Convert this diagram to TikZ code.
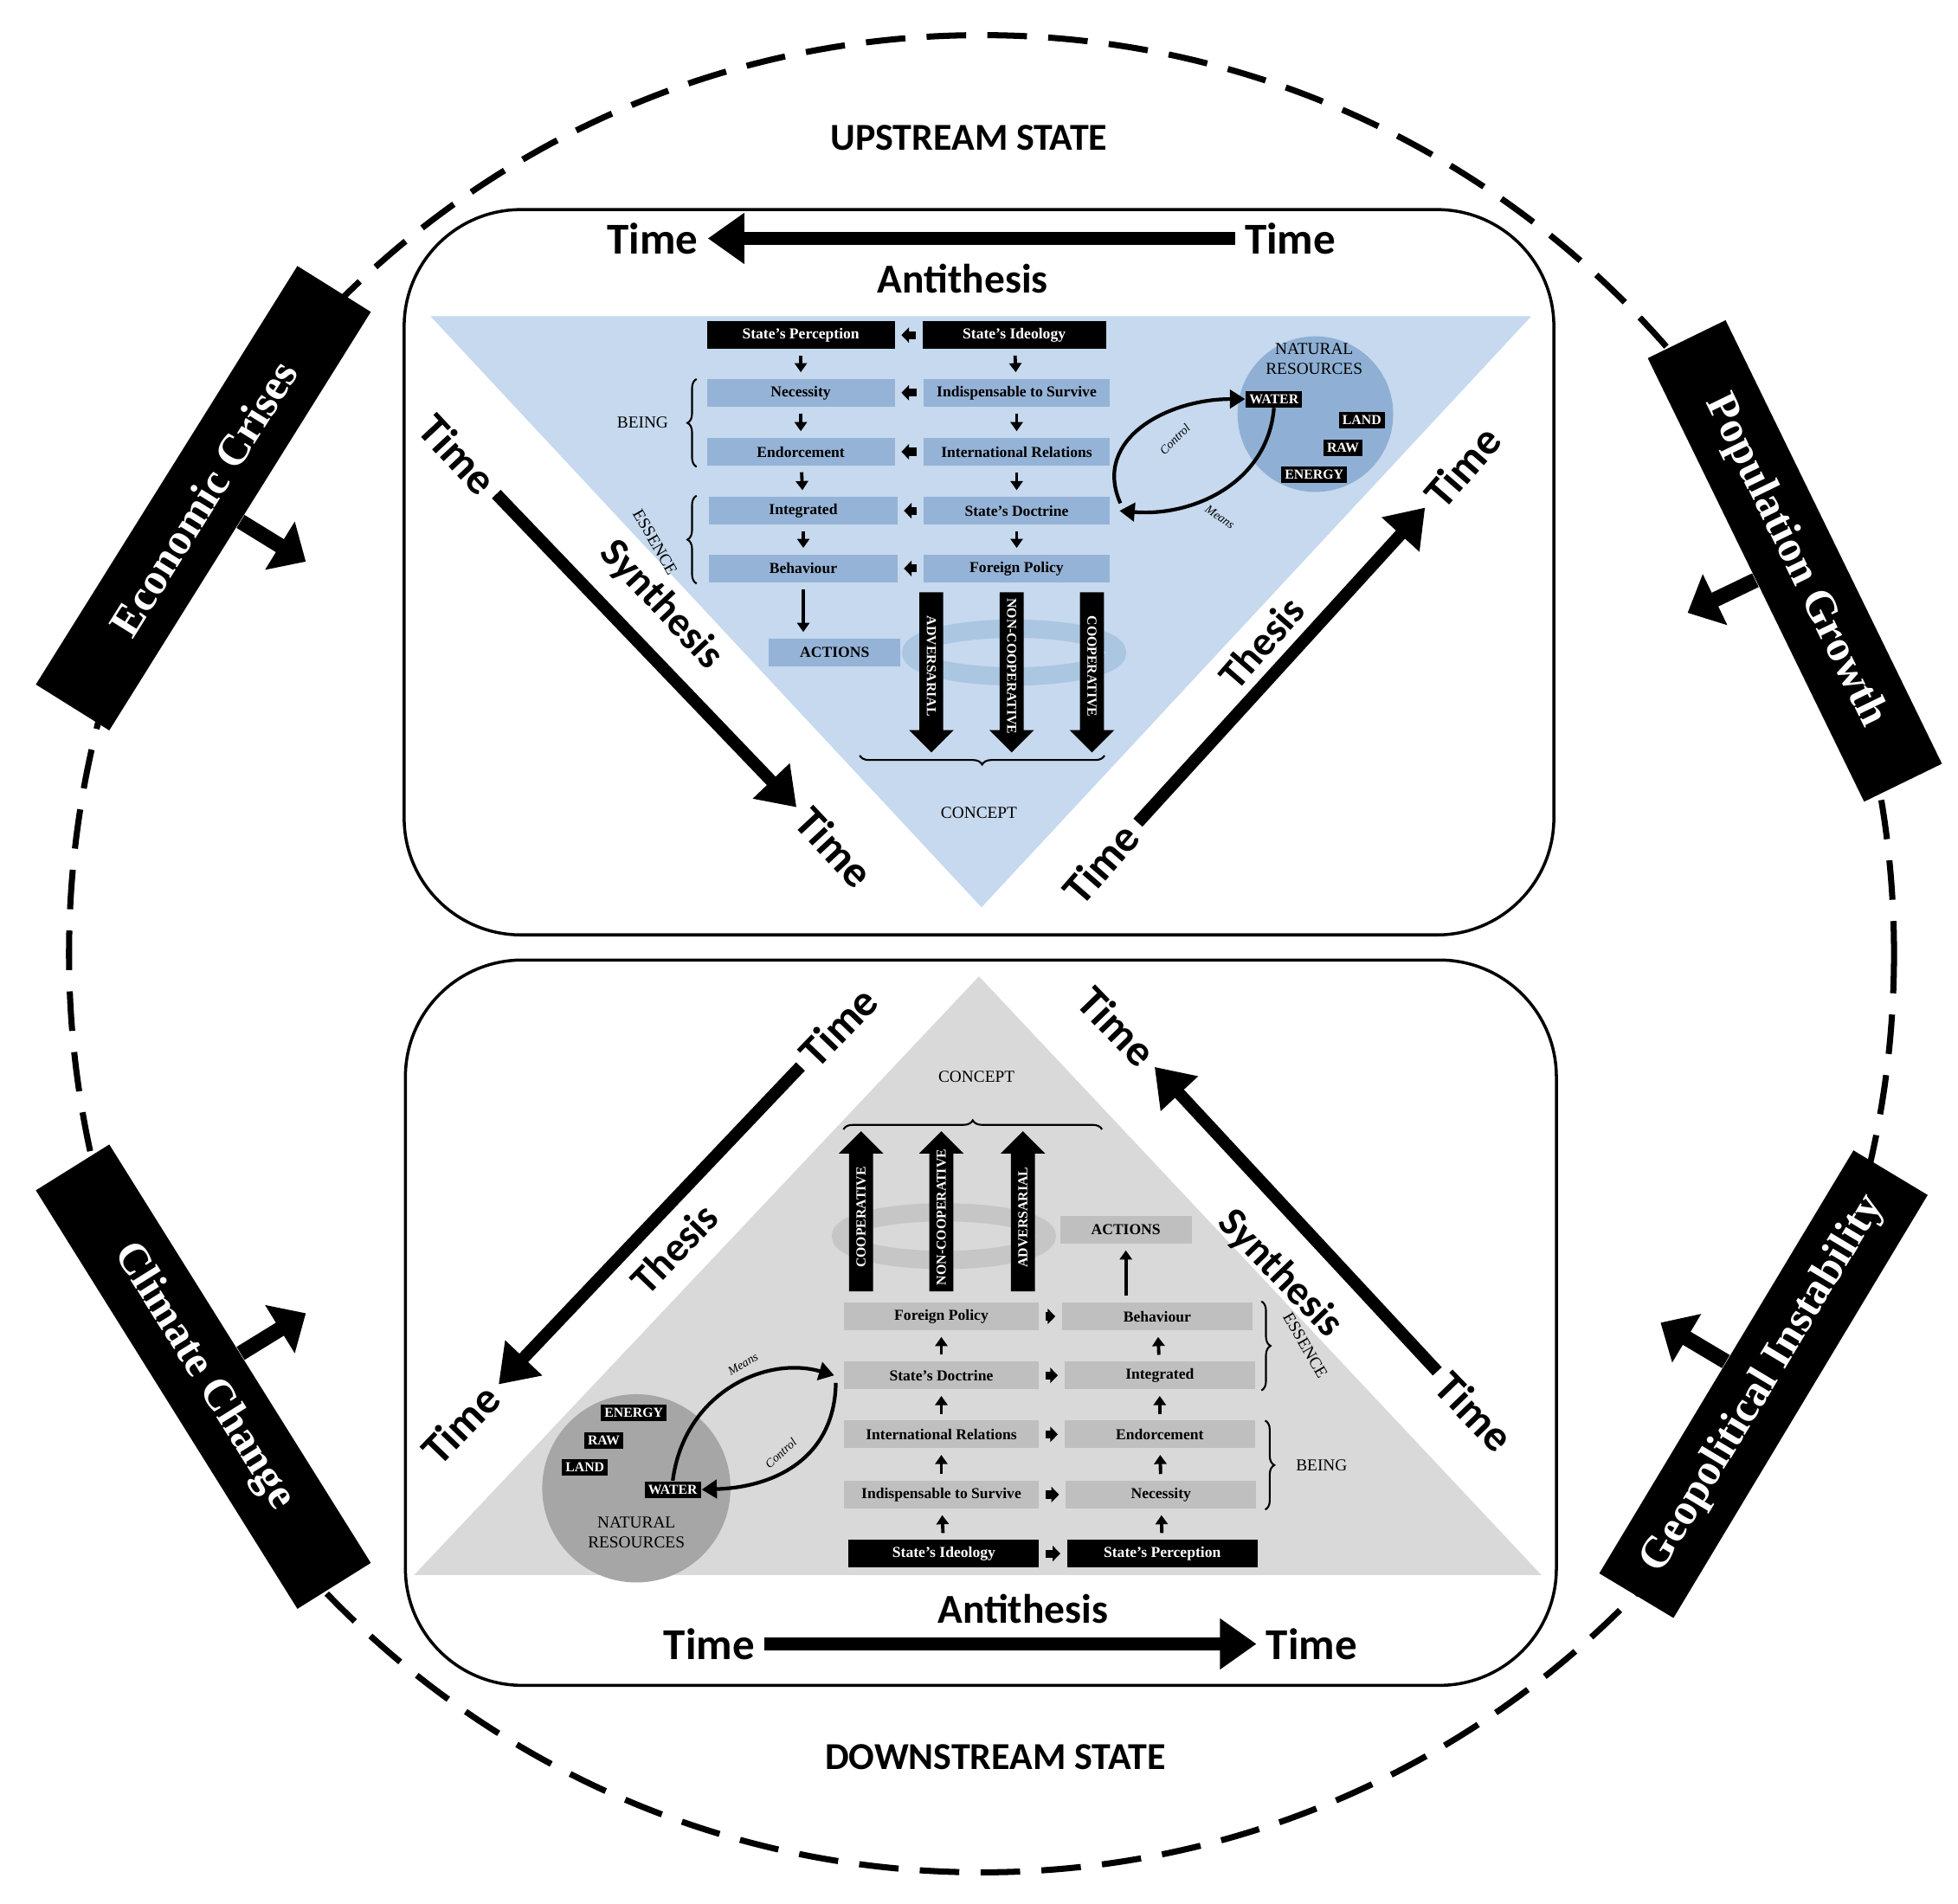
\documentclass[tikz,border=0pt]{standalone}
\usepackage{fontspec}
\setmainfont{Liberation Serif}
\newfontfamily\carlito{Carlito}
\usepackage{tikz}
\usetikzlibrary{shapes.arrows,arrows.meta,decorations.pathreplacing}
\definecolor{upfill}{HTML}{C6D9EE}
\definecolor{upbox}{HTML}{95B3D7}
\definecolor{upres}{HTML}{8FB0D4}
\definecolor{upcyc}{HTML}{A9C4E0}
\definecolor{dnfill}{HTML}{D9D9D9}
\definecolor{dnbox}{HTML}{BFBFBF}
\definecolor{dnres}{HTML}{A6A6A6}
\definecolor{dncyc}{HTML}{C4C4C4}
\tikzset{
  big/.style={font={\carlito\bfseries\fontsize{14.5}{17}\selectfont}, inner sep=1pt},
  dial/.style={font={\carlito\bfseries\fontsize{13.5}{16}\selectfont}},
  state/.style={font={\carlito\bfseries\fontsize{12.5}{15}\selectfont}},
  timearrow/.style={line width=4pt, -{Triangle[length=12pt,width=16pt]}, shorten <=2pt, shorten >=2pt},
  banner/.style={fill=black, text=white, minimum width=5.7cm, minimum height=1cm,
    font={\bfseries\fontsize{14.5}{17}\selectfont}},
  bannerarrow/.style={line width=5pt, -{Triangle[length=10pt,width=18pt]}},
  box/.style={minimum height=0.32cm, inner sep=1pt, font={\bfseries\fontsize{5}{6}\selectfont}},
  blk/.style={box, fill=black, text=white},
  ub/.style={box, fill=upbox},
  db/.style={box, fill=dnbox},
  res/.style={fill=black, text=white, inner sep=1.2pt, font={\bfseries\fontsize{4.5}{5}\selectfont}},
  varrow/.style={line width=1.1pt, -{Triangle[length=3pt,width=4pt]}, shorten <=2pt, shorten >=2pt},
  harrow/.style={line width=2.6pt, -{Triangle[length=2.5pt,width=5pt]}, shorten <=2pt, shorten >=2pt},
  concept/.style={single arrow, fill=black, text=white, minimum height=1.85cm,
    single arrow head extend=0.12cm, inner xsep=1pt, inner ysep=2.2pt,
    font={\bfseries\fontsize{4.5}{5}\selectfont}},
  tag/.style={font={\fontsize{5.5}{6}\selectfont}},
  curve/.style={line width=1.2pt, -{Triangle[length=5pt,width=6pt]}},
  lbl/.style={font={\itshape\fontsize{4}{5}\selectfont}},
  brc/.style={decorate, decoration={brace, amplitude=3pt}, line width=0.6pt},
}
\begin{document}
\begin{tikzpicture}[x=0.0145cm, y=-0.0145cm]
\useasboundingbox (0,0) rectangle (1560,1517);
\fill[white] (0,0) rectangle (1560,1517);

% outer cycle
\draw[line width=2pt, dash pattern=on 13pt off 7pt] (782,760) ellipse [x radius=727, y radius=732];
\node[state] (up) at (772,110) {UPSTREAM STATE};
\node[state] (down) at (793,1400) {DOWNSTREAM STATE};

% upper panel
\draw[line width=1pt, rounded corners=1.35cm] (322,167) rectangle (1238,745);
\fill[upfill] (343,252) -- (1220,252) -- (782,723) -- cycle;
\node[big] (ut1) at (1028,190) {Time};
\node[big] (ut2) at (520,190) {Time};
\draw[timearrow] (ut1) -- (ut2);
\node[dial] at (767,222) {Antithesis};
\node[big, rotate=-47] (ul1) at (365,362) {Time};
\node[big, rotate=-47] (ul2) at (665,675) {Time};
\draw[timearrow] (ul1) -- (ul2);
\node[dial, rotate=-47] at (527,482) {Synthesis};
\node[big, rotate=49] (ur1) at (877,688) {Time};
\node[big, rotate=49] (ur2) at (1165,372) {Time};
\draw[timearrow] (ur1) -- (ur2);
\node[dial, rotate=49] at (1005,512) {Thesis};

% upper chart
\node[blk, minimum width=2.17cm] (uper) at (638,267) {State's Perception};
\node[blk, minimum width=2.12cm] (uide) at (808,267) {State's Ideology};
\node[ub, minimum width=2.17cm] (unec) at (638,313) {Necessity};
\node[ub, minimum width=2.15cm] (uind) at (810,313) {Indispensable to Survive};
\node[ub, minimum width=2.17cm] (uend) at (638,360) {Endorcement};
\node[ub, minimum width=2.15cm] (uint) at (810,360) {International Relations};
\node[ub, minimum width=2.17cm] (uinte) at (640,407) {Integrated};
\node[ub, minimum width=2.15cm] (udoc) at (810,407) {State's Doctrine};
\node[ub, minimum width=2.17cm] (ubeh) at (640,453) {Behaviour};
\node[ub, minimum width=2.15cm] (ufor) at (810,453) {Foreign Policy};
\node[ub, minimum width=1.52cm] (uact) at (665,520) {ACTIONS};
\foreach \a/\b in {uide/uper, uind/unec, uint/uend, udoc/uinte, ufor/ubeh}
  \draw[harrow] (\a) -- (\b);
\foreach \a/\b in {uper/unec, unec/uend, uend/uinte, uinte/ubeh, uide/uind, uind/uint, uint/udoc, udoc/ufor}
  \draw[varrow] (\a) -- (\b);
\draw[varrow] (ubeh.south) -- (ubeh.south |- uact.north);
\draw[upcyc, line width=6pt, opacity=0.9] (808,520) ellipse [x radius=82, y radius=19];
\node[concept, rotate=-90] (uadv) at (742,531) {ADVERSARIAL};
\node[concept, rotate=-90] (unon) at (806,531) {NON-COOPERATIVE};
\node[concept, rotate=-90] (ucoo) at (870,531) {COOPERATIVE};
\draw[brc] (555,372) -- (555,302);
\node[tag] at (512,337) {BEING};
\draw[brc] (555,465) -- (555,395);
\node[tag, rotate=-60] at (522,432) {ESSENCE};
\draw[brc] (880,602) -- (685,602);
\node[tag] at (780,648) {CONCEPT};
\fill[upres] (1048,330) circle [radius=62];
\node[tag, align=center, font={\fontsize{5.5}{6.5}\selectfont}] at (1047,286) {NATURAL\\RESOURCES};
\node[res] (uwat) at (1015,318) {WATER};
\node[res] (ulan) at (1085,335) {LAND};
\node[res] (uraw) at (1070,357) {RAW};
\node[res] (uene) at (1047,378) {ENERGY};
\draw[curve] (udoc.east) ++(8,-6) .. controls (870,350) and (930,318) .. (uwat.west);
\draw[curve] (uwat.south) .. controls (1010,385) and (950,412) .. ([xshift=3pt]udoc.east);
\node[lbl, rotate=45] at (936,350) {Control};
\node[lbl, rotate=-35] at (972,412) {Means};

% lower panel
\draw[line width=1pt, rounded corners=1.35cm] (323,765) rectangle (1240,1343);
\fill[dnfill] (780,778) -- (1228,1255) -- (330,1255) -- cycle;
\node[big] (dt1) at (565,1310) {Time};
\node[big] (dt2) at (1045,1310) {Time};
\draw[timearrow] (dt1) -- (dt2);
\node[dial] at (815,1282) {Antithesis};
\node[big, rotate=46] (dl1) at (668,818) {Time};
\node[big, rotate=46] (dl2) at (367,1135) {Time};
\draw[timearrow] (dl1) -- (dl2);
\node[dial, rotate=46] at (537,995) {Thesis};
\node[big, rotate=-46] (dr1) at (1175,1125) {Time};
\node[big, rotate=-46] (dr2) at (890,818) {Time};
\draw[timearrow] (dr1) -- (dr2);
\node[dial, rotate=-46] at (1020,1015) {Synthesis};

% lower chart
\node[blk, minimum width=2.2cm] (dide) at (752,1238) {State's Ideology};
\node[blk, minimum width=2.2cm] (dper) at (926,1238) {State's Perception};
\node[db, minimum width=2.25cm] (dind) at (750,1191) {Indispensable to Survive};
\node[db, minimum width=2.2cm] (dnec) at (925,1191) {Necessity};
\node[db, minimum width=2.25cm] (dint) at (750,1143) {International Relations};
\node[db, minimum width=2.2cm] (dend) at (924,1143) {Endorcement};
\node[db, minimum width=2.25cm] (ddoc) at (750,1096) {State's Doctrine};
\node[db, minimum width=2.2cm] (dinte) at (924,1096) {Integrated};
\node[db, minimum width=2.25cm] (dfor) at (750,1049) {Foreign Policy};
\node[db, minimum width=2.2cm] (dbeh) at (922,1049) {Behaviour};
\node[db, minimum width=1.52cm] (dact) at (897,980) {ACTIONS};
\foreach \a/\b in {dide/dper, dind/dnec, dint/dend, ddoc/dinte, dfor/dbeh}
  \draw[harrow] (\a) -- (\b);
\foreach \a/\b in {dide/dind, dind/dint, dint/ddoc, ddoc/dfor, dper/dnec, dnec/dend, dend/dinte, dinte/dbeh}
  \draw[varrow] (\a) -- (\b);
\draw[varrow] (dbeh.north -| dact) -- (dact.south);
\draw[dncyc, line width=6pt, opacity=0.9] (752,985) ellipse [x radius=82, y radius=19];
\node[concept, rotate=90] (dcoo) at (686,970) {COOPERATIVE};
\node[concept, rotate=90] (dnon) at (750,970) {NON-COOPERATIVE};
\node[concept, rotate=90] (dadv) at (815,970) {ADVERSARIAL};
\draw[brc] (672,900) -- (878,900);
\node[tag] at (778,858) {CONCEPT};
\draw[brc] (1005,1037) -- (1005,1108);
\node[tag, rotate=-60] at (1040,1072) {ESSENCE};
\draw[brc] (1008,1132) -- (1008,1203);
\node[tag] at (1053,1168) {BEING};
\fill[dnres] (507,1186) circle [radius=75];
\node[tag, align=center, font={\fontsize{5.5}{6.5}\selectfont}] at (507,1221) {NATURAL\\RESOURCES};
\node[res] (dene) at (505,1126) {ENERGY};
\node[res] (draw) at (481,1148) {RAW};
\node[res] (dlan) at (466,1169) {LAND};
\node[res] (dwat) at (536,1187) {WATER};
\draw[curve] (dwat.north) .. controls (545,1110) and (610,1080) .. ([xshift=-3pt]ddoc.west);
\draw[curve] (ddoc.west) ++(-6,6) .. controls (665,1160) and (620,1185) .. (dwat.east);
\node[lbl, rotate=30] at (592,1087) {Means};
\node[lbl, rotate=42] at (622,1158) {Control};

% external factors
\node[banner, rotate=58] (eco) at (162,397) {Economic Crises};
\draw[bannerarrow] (eco.south) -- ++(52,32);
\node[banner, rotate=-64] (pop) at (1430,447) {Population Growth};
\draw[bannerarrow] (pop.south) -- ++(-54,26);
\node[banner, rotate=-58] (cli) at (162,1097) {Climate Change};
\draw[bannerarrow] (cli.north) -- ++(52,-32);
\node[banner, rotate=59] (geo) at (1405,1103) {Geopolitical Instability};
\draw[bannerarrow] (geo.north) -- ++(-52,-31);
\end{tikzpicture}
\end{document}
